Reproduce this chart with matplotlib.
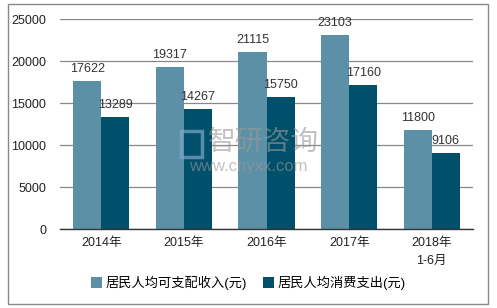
import numpy as np
import matplotlib.pyplot as plt
from matplotlib.patches import Rectangle

plt.rcParams['font.family'] = ['Liberation Sans', 'Noto Sans CJK SC']

categories = ["2014年", "2015年", "2016年", "2017年", "2018年\n1-6月"]
income = [17622, 19317, 21115, 23103, 11800]
spending = [13289, 14267, 15750, 17160, 9106]
series_names = ["居民人均可支配收入(元)", "居民人均消费支出(元)"]
yticks = [0, 5000, 10000, 15000, 20000, 25000]

c_light = "#5b90a7"
c_dark = "#00506b"

fig = plt.figure(figsize=(4.97, 3.08), dpi=100)
ax = fig.add_axes([60 / 497, 1 - 229 / 308, 413 / 497, 210 / 308])

x = np.arange(len(categories))
w = 0.34
b1 = ax.bar(x - w / 2, income, w, color=c_light, zorder=2)
b2 = ax.bar(x + w / 2, spending, w, color=c_dark, zorder=2)

for bars, vals in ((b1, income), (b2, spending)):
    for r, v in zip(bars, vals):
        ax.text(r.get_x() + r.get_width() / 2, v + 700, str(v),
                ha="center", va="bottom", fontsize=9, color="#333333")

ax.set_xlim(-0.5, len(categories) - 0.5)
ax.set_ylim(0, 25000)
ax.set_yticks(yticks)
ax.set_xticks(x)
ax.set_xticklabels(categories, fontsize=9, color="#222222", linespacing=1.6)
ax.tick_params(axis="y", labelsize=9, colors="#222222", length=0, pad=10)
ax.tick_params(axis="x", length=0, pad=6)
ax.grid(axis="y", color="#888888", linewidth=0.9, zorder=0)
for s in ("left", "right", "top"):
    ax.spines[s].set_visible(False)
ax.spines["bottom"].set_color("#333333")
ax.spines["bottom"].set_linewidth(1.0)

leg = fig.legend([b1, b2], series_names, loc="center", ncol=2,
                 bbox_to_anchor=(0.5, 1 - 283 / 308), frameon=False,
                 fontsize=9.5, handlelength=0.8, handleheight=0.8,
                 handletextpad=0.3, columnspacing=1.2)

# watermark
fig.patches.append(Rectangle((181 / 497, 1 - 157 / 308), 21 / 497, 26 / 308,
                             transform=fig.transFigure, fill=False,
                             edgecolor="#7fa7c9", linewidth=2.5, alpha=0.7))
fig.text(263 / 497, 1 - 143 / 308, "智研咨询", fontsize=20, color="#999999",
         alpha=0.6, ha="center", va="center")
fig.text(248 / 497, 1 - 166 / 308, "www.chyxx.com", fontsize=12, color="#999999",
         alpha=0.6, ha="center", va="center")

fig.patches.append(Rectangle((8 / 497, 4 / 308), 480 / 497, 300 / 308,
                             transform=fig.transFigure, fill=False,
                             edgecolor="#888888", linewidth=1.0))

fig.savefig("out.png", dpi=100)
